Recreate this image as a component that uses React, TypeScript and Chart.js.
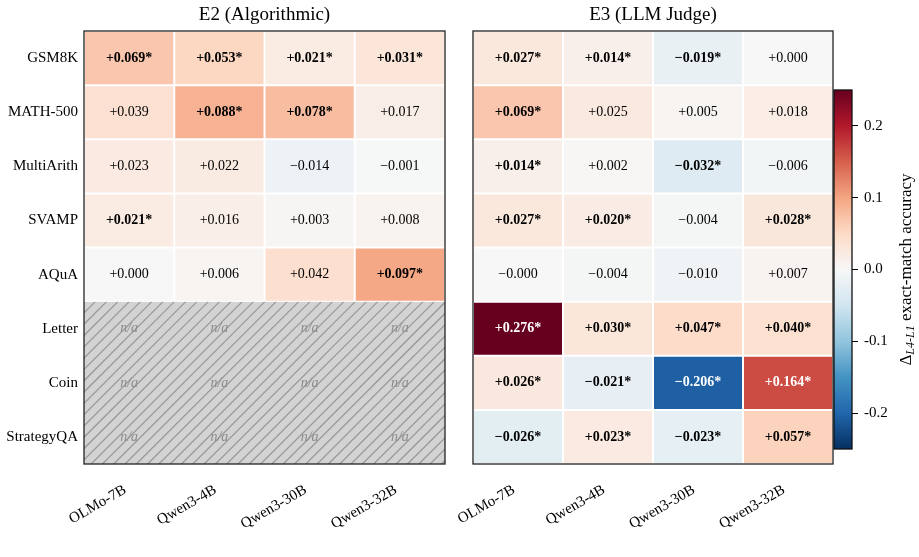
import React, { useEffect, useRef } from "react";
import { Chart, registerables } from "chart.js";

Chart.register(...registerables);

const SERIF = "'Liberation Serif', 'Times New Roman', Times, serif";

const rowLabels = ["GSM8K", "MATH-500", "MultiArith", "SVAMP", "AQuA", "Letter", "Coin", "StrategyQA"];
const modelLabels = ["OLMo-7B", "Qwen3-4B", "Qwen3-30B", "Qwen3-32B"];

// E2 (Algorithmic): null = n/a
const e2Olmo7B = [0.069, 0.039, 0.023, 0.021, 0.0, null, null, null];
const e2Qwen4B = [0.053, 0.088, 0.022, 0.016, 0.006, null, null, null];
const e2Qwen30B = [0.021, 0.078, -0.014, 0.003, 0.042, null, null, null];
const e2Qwen32B = [0.031, 0.017, -0.001, 0.008, 0.097, null, null, null];
const e2SigOlmo7B = [1, 0, 0, 1, 0, 0, 0, 0];
const e2SigQwen4B = [1, 1, 0, 0, 0, 0, 0, 0];
const e2SigQwen30B = [1, 1, 0, 0, 0, 0, 0, 0];
const e2SigQwen32B = [1, 0, 0, 0, 1, 0, 0, 0];

// E3 (LLM Judge)
const e3Olmo7B = [0.027, 0.069, 0.014, 0.027, -0.0, 0.276, 0.026, -0.026];
const e3Qwen4B = [0.014, 0.025, 0.002, 0.02, -0.004, 0.03, -0.021, 0.023];
const e3Qwen30B = [-0.019, 0.005, -0.032, -0.004, -0.01, 0.047, -0.206, -0.023];
const e3Qwen32B = [0.0, 0.018, -0.006, 0.028, 0.007, 0.04, 0.164, 0.057];
const e3SigOlmo7B = [1, 1, 1, 1, 0, 1, 1, 1];
const e3SigQwen4B = [1, 0, 0, 1, 0, 1, 1, 1];
const e3SigQwen30B = [1, 0, 1, 0, 0, 1, 1, 1];
const e3SigQwen32B = [0, 0, 0, 1, 0, 1, 1, 1];

const colorbarTicks = [-0.2, -0.1, 0.0, 0.1, 0.2];
const colorMin = -0.25;
const colorMax = 0.25;
const rdbuR = ["#053061", "#2166ac", "#4393c3", "#92c5de", "#d1e5f0", "#f7f7f7", "#fddbc7", "#f4a582", "#d6604d", "#b2182b", "#67001f"];

function hexToRgb(h: string): number[] {
  const n = parseInt(h.slice(1), 16);
  return [(n >> 16) & 255, (n >> 8) & 255, n & 255];
}

function cmap(v: number): string {
  let t = (v - colorMin) / (colorMax - colorMin);
  t = Math.max(0, Math.min(1, t));
  const p = t * (rdbuR.length - 1);
  const i = Math.min(rdbuR.length - 2, Math.floor(p));
  const f = p - i;
  const a = hexToRgb(rdbuR[i]);
  const b = hexToRgb(rdbuR[i + 1]);
  const c = a.map((x, k) => Math.round(x + (b[k] - x) * f));
  return `rgb(${c[0]},${c[1]},${c[2]})`;
}

function fmt(v: number): string {
  const neg = v < 0 || Object.is(v, -0);
  return (neg ? "\u2212" : "+") + Math.abs(v).toFixed(3);
}

type HeatCfg = {
  title: string;
  series: (number | null)[][];
  sigs: number[][];
  showY: boolean;
  padLeft: number;
  padRight: number;
};

function makeHeatPlugin(cfg: HeatCfg) {
  return {
    id: "heatText",
    afterDatasetsDraw(chart: any) {
      const { ctx, chartArea, scales } = chart;
      const x = scales.x;
      const y = scales.y;
      const band = Math.abs(y.getPixelForValue(1) - y.getPixelForValue(0));
      ctx.save();
      const naRows: number[] = [];
      rowLabels.forEach((_, r) => {
        if (cfg.series.every((s) => s[r] === null)) naRows.push(r);
      });
      if (naRows.length) {
        const y0 = y.getPixelForValue(naRows[0]) - band / 2;
        const y1 = y.getPixelForValue(naRows[naRows.length - 1]) + band / 2;
        const x0 = x.getPixelForValue(0);
        const x1 = x.getPixelForValue(cfg.series.length);
        ctx.save();
        ctx.beginPath();
        ctx.rect(x0, y0, x1 - x0, y1 - y0);
        ctx.clip();
        ctx.fillStyle = "#d3d3d3";
        ctx.fillRect(x0, y0, x1 - x0, y1 - y0);
        ctx.strokeStyle = "#999999";
        ctx.lineWidth = 1.3;
        const h = y1 - y0;
        for (let k = x0 - h; k < x1 + 12; k += 11.3) {
          ctx.beginPath();
          ctx.moveTo(k, y1);
          ctx.lineTo(k + h, y0);
          ctx.stroke();
        }
        ctx.restore();
      }
      ctx.textAlign = "center";
      ctx.textBaseline = "middle";
      cfg.series.forEach((vals, c) => {
        vals.forEach((v, r) => {
          const cx = x.getPixelForValue(c + 0.5);
          const cy = y.getPixelForValue(r);
          if (v === null) {
            ctx.font = `italic 14px ${SERIF}`;
            ctx.fillStyle = "#8c8c8c";
            ctx.fillText("n/a", cx, cy);
            return;
          }
          const sig = cfg.sigs[c][r] === 1;
          ctx.font = `${sig ? "bold " : ""}14px ${SERIF}`;
          ctx.fillStyle = Math.abs(v) > 0.15 ? "#ffffff" : "#000000";
          ctx.fillText(fmt(v) + (sig ? "*" : ""), cx, cy);
        });
      });
      ctx.strokeStyle = "#222222";
      ctx.lineWidth = 1.3;
      ctx.strokeRect(chartArea.left, chartArea.top, chartArea.right - chartArea.left, chartArea.bottom - chartArea.top);
      ctx.restore();
    },
  };
}

function buildHeatmap(canvas: HTMLCanvasElement, cfg: HeatCfg) {
  return new Chart(canvas, {
    type: "bar",
    data: {
      labels: rowLabels,
      datasets: cfg.series.map((vals, c) => ({
        label: modelLabels[c],
        data: vals.map((v) => (v === null ? null : [c, c + 1])),
        backgroundColor: vals.map((v) => (v === null ? "rgba(0,0,0,0)" : cmap(v))),
        borderColor: "#ffffff",
        borderWidth: 1,
        borderSkipped: false,
        barPercentage: 1,
        categoryPercentage: 1,
        grouped: false,
        inflateAmount: 0,
      })) as any,
    },
    options: {
      indexAxis: "y",
      responsive: false,
      animation: false,
      devicePixelRatio: 1,
      layout: { padding: { left: cfg.padLeft, right: cfg.padRight, top: 0, bottom: 0 } },
      plugins: {
        legend: { display: false },
        tooltip: { enabled: false },
        title: {
          display: true,
          text: cfg.title,
          fullSize: false,
          color: "#000",
          font: { family: SERIF, size: 19, weight: "normal" },
          padding: { top: 4, bottom: 4.2 },
        },
      },
      scales: {
        x: {
          type: "linear",
          min: 0,
          max: modelLabels.length,
          grid: { display: false },
          border: { display: false },
          afterBuildTicks: (s: any) => {
            s.ticks = modelLabels.map((_, i) => ({ value: i + 0.5 }));
          },
          afterFit: (s: any) => {
            s.height = 93;
          },
          ticks: {
            autoSkip: false,
            minRotation: 30,
            maxRotation: 30,
            padding: 9,
            labelOffset: -4,
            color: "#000",
            font: { family: SERIF, size: 15 },
            callback: (_v: any, i: number) => modelLabels[i],
          },
        },
        y: {
          type: "category",
          display: cfg.showY,
          grid: { display: false, drawTicks: false },
          border: { display: false },
          afterFit: (s: any) => {
            s.width = cfg.showY ? 84 : 0;
          },
          ticks: { padding: 6, color: "#000", font: { family: SERIF, size: 15 } },
        },
      },
    } as any,
    plugins: [makeHeatPlugin(cfg)],
  });
}

const colorbarPlugin = {
  id: "colorbarFill",
  beforeDatasetsDraw(chart: any) {
    const { ctx, chartArea, scales } = chart;
    const y = scales.y;
    const yTop = y.getPixelForValue(colorMax);
    const yBot = y.getPixelForValue(colorMin);
    const g = ctx.createLinearGradient(0, yBot, 0, yTop);
    rdbuR.forEach((c, i) => g.addColorStop(i / (rdbuR.length - 1), c));
    ctx.save();
    ctx.fillStyle = g;
    ctx.fillRect(chartArea.left, yTop, chartArea.right - chartArea.left, yBot - yTop);
    ctx.strokeStyle = "#111";
    ctx.lineWidth = 1.3;
    ctx.strokeRect(chartArea.left, yTop, chartArea.right - chartArea.left, yBot - yTop);
    ctx.restore();
  },
  afterDraw(chart: any) {
    const { ctx, chartArea } = chart;
    const cy = (chartArea.top + chartArea.bottom) / 2;
    ctx.save();
    ctx.translate(79, cy);
    ctx.rotate(-Math.PI / 2);
    ctx.fillStyle = "#000";
    ctx.textBaseline = "alphabetic";
    ctx.textAlign = "left";
    const mainFont = `17px ${SERIF}`;
    const subFont = `italic 12px ${SERIF}`;
    const p1 = "\u0394";
    const p2 = "L4-L1";
    const p3 = " exact-match accuracy";
    ctx.font = mainFont;
    const w1 = ctx.measureText(p1).width;
    const w3 = ctx.measureText(p3).width;
    ctx.font = subFont;
    const w2 = ctx.measureText(p2).width;
    let sx = -(w1 + w2 + w3) / 2;
    const base = 5.5;
    ctx.font = mainFont;
    ctx.fillText(p1, sx, base);
    sx += w1;
    ctx.font = subFont;
    ctx.fillText(p2, sx, base + 3.5);
    sx += w2;
    ctx.font = mainFont;
    ctx.fillText(p3, sx, base);
    ctx.restore();
  },
};

function buildColorbar(canvas: HTMLCanvasElement) {
  return new Chart(canvas, {
    type: "bar",
    data: { labels: [""], datasets: [] },
    options: {
      responsive: false,
      animation: false,
      devicePixelRatio: 1,
      layout: { padding: { left: 8, right: 0, top: 90, bottom: 108 } },
      plugins: { legend: { display: false }, tooltip: { enabled: false }, title: { display: false } },
      scales: {
        x: { display: false },
        y: {
          type: "linear",
          position: "right",
          min: colorMin,
          max: colorMax,
          afterBuildTicks: (s: any) => {
            s.ticks = colorbarTicks.map((v) => ({ value: v }));
          },
          afterFit: (s: any) => {
            s.width = 67;
          },
          grid: { drawOnChartArea: false, drawTicks: true, tickLength: 6, color: "#000", lineWidth: 1 },
          border: { display: false },
          ticks: {
            padding: 6,
            color: "#000",
            font: { family: SERIF, size: 15 },
            callback: (v: any) => Number(v).toFixed(1),
          },
        },
      },
    } as any,
    plugins: [colorbarPlugin],
  });
}

export default function App() {
  const leftRef = useRef<HTMLCanvasElement>(null);
  const rightRef = useRef<HTMLCanvasElement>(null);
  const cbRef = useRef<HTMLCanvasElement>(null);

  useEffect(() => {
    const left = buildHeatmap(leftRef.current!, {
      title: "E2 (Algorithmic)",
      series: [e2Olmo7B, e2Qwen4B, e2Qwen30B, e2Qwen32B],
      sigs: [e2SigOlmo7B, e2SigQwen4B, e2SigQwen30B, e2SigQwen32B],
      showY: true,
      padLeft: 0,
      padRight: 15,
    });
    const right = buildHeatmap(rightRef.current!, {
      title: "E3 (LLM Judge)",
      series: [e3Olmo7B, e3Qwen4B, e3Qwen30B, e3Qwen32B],
      sigs: [e3SigOlmo7B, e3SigQwen4B, e3SigQwen30B, e3SigQwen32B],
      showY: false,
      padLeft: 43,
      padRight: 7,
    });
    const cb = buildColorbar(cbRef.current!);
    return () => {
      left.destroy();
      right.destroy();
      cb.destroy();
    };
  }, []);

  return (
    <div style={{ position: "absolute", left: 0, top: 0, width: 919, height: 557, background: "#fff", overflow: "hidden" }}>
      <canvas ref={leftRef} width={460} height={557} style={{ position: "absolute", left: 0, top: 0 }} />
      <canvas ref={rightRef} width={410} height={557} style={{ position: "absolute", left: 430, top: 0 }} />
      <canvas ref={cbRef} width={93} height={557} style={{ position: "absolute", left: 826, top: 0 }} />
    </div>
  );
}
